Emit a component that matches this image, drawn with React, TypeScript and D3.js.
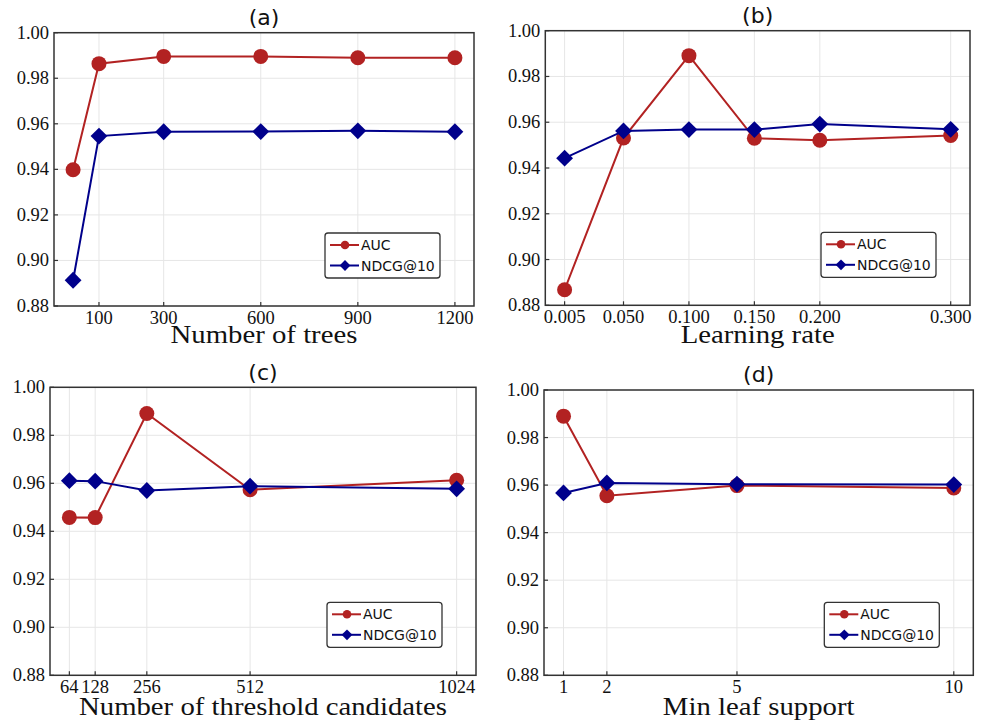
import React from "react";
import * as d3 from "d3";

// ---------- data ----------
const yTicks = [0.88, 0.9, 0.92, 0.94, 0.96, 0.98, 1.0];

const treesX = [20, 100, 300, 600, 900, 1200];
const treesTicks = [100, 300, 600, 900, 1200];
const treesTickLabels = ["100", "300", "600", "900", "1200"];
const treesAUC = [0.9398, 0.9864, 0.9896, 0.9896, 0.989, 0.989];
const treesNDCG = [0.8913, 0.9546, 0.9565, 0.9566, 0.9569, 0.9565];

const lrX = [0.005, 0.05, 0.1, 0.15, 0.2, 0.3];
const lrTicks = [0.005, 0.05, 0.1, 0.15, 0.2, 0.3];
const lrTickLabels = ["0.005", "0.050", "0.100", "0.150", "0.200", "0.300"];
const lrAUC = [0.8868, 0.9531, 0.9891, 0.953, 0.9521, 0.9542];
const lrNDCG = [0.9443, 0.9562, 0.9568, 0.9568, 0.9592, 0.9569];

const thrX = [64, 128, 256, 512, 1024];
const thrTicks = [64, 128, 256, 512, 1024];
const thrTickLabels = ["64", "128", "256", "512", "1024"];
const thrAUC = [0.9458, 0.9457, 0.9891, 0.9573, 0.9613];
const thrNDCG = [0.9611, 0.9609, 0.957, 0.9588, 0.9577];

const leafX = [1, 2, 5, 10];
const leafTicks = [1, 2, 5, 10];
const leafTickLabels = ["1", "2", "5", "10"];
const leafAUC = [0.989, 0.9555, 0.9598, 0.9588];
const leafNDCG = [0.9567, 0.9609, 0.9604, 0.9602];

const seriesNames = ["AUC", "NDCG@10"];
const seriesColors = ["#b22222", "#00008b"];

// ---------- drawing ----------
type PanelProps = {
  title: string;
  xlabel: string;
  x: number[];
  auc: number[];
  ndcg: number[];
  ticks: number[];
  tickLabels: string[];
  L: number;
  R: number;
  T: number;
  B: number;
  titleY: number;
  xlabelY: number;
};

const SERIF = "'Liberation Serif', 'Times New Roman', serif";
const SANS = "'DejaVu Sans', sans-serif";

function diamondPath(cx: number, cy: number, r: number) {
  return `M${cx},${cy - r}L${cx + r},${cy}L${cx},${cy + r}L${cx - r},${cy}Z`;
}

function Marker({ kind, cx, cy, color, r }: { kind: number; cx: number; cy: number; color: string; r: number }) {
  if (kind === 0) return <circle cx={cx} cy={cy} r={r} fill={color} />;
  return <path d={diamondPath(cx, cy, r * 1.12)} fill={color} />;
}

function Panel(p: PanelProps) {
  const ext = d3.extent(p.x) as [number, number];
  const pad = (ext[1] - ext[0]) * 0.05;
  const xs = d3.scaleLinear().domain([ext[0] - pad, ext[1] + pad]).range([p.L, p.R]);
  const ys = d3.scaleLinear().domain([0.88, 1.0]).range([p.B, p.T]);
  const line = d3
    .line<number>()
    .x((_, i) => xs(p.x[i]))
    .y((d) => ys(d));
  const cx = (p.L + p.R) / 2;
  const series = [p.auc, p.ndcg];
  const lgW = 115;
  const lgH = 45;
  const lgX = p.R - 34 - lgW;
  const lgY = p.B - 28 - lgH;
  return (
    <g>
      {/* grid */}
      {yTicks.map((t) => (
        <line key={"gy" + t} x1={p.L} x2={p.R} y1={ys(t)} y2={ys(t)} stroke="#e6e6e6" strokeWidth={1} />
      ))}
      {p.ticks.map((t) => (
        <line key={"gx" + t} x1={xs(t)} x2={xs(t)} y1={p.T} y2={p.B} stroke="#e6e6e6" strokeWidth={1} />
      ))}
      {/* series */}
      {series.map((s, si) => (
        <g key={"s" + si}>
          <path d={line(s) || ""} fill="none" stroke={seriesColors[si]} strokeWidth={2} />
          {s.map((v, i) => (
            <Marker key={i} kind={si} cx={xs(p.x[i])} cy={ys(v)} color={seriesColors[si]} r={7.5} />
          ))}
        </g>
      ))}
      {/* frame */}
      <rect x={p.L} y={p.T} width={p.R - p.L} height={p.B - p.T} fill="none" stroke="#333" strokeWidth={1.5} />
      {/* y ticks */}
      {yTicks.map((t) => (
        <g key={"yt" + t}>
          <line x1={p.L} x2={p.L + 4} y1={ys(t)} y2={ys(t)} stroke="#333" strokeWidth={1.2} />
          <text
            x={p.L - 5}
            y={ys(t)}
            textAnchor="end"
            dominantBaseline="central"
            fontFamily={SERIF}
            fontSize={18.5}
            fill="#111"
          >
            {t.toFixed(2)}
          </text>
        </g>
      ))}
      {/* x ticks */}
      {p.ticks.map((t, i) => (
        <g key={"xt" + t}>
          <line x1={xs(t)} x2={xs(t)} y1={p.B} y2={p.B - 4} stroke="#333" strokeWidth={1.2} />
          <text x={xs(t)} y={p.B + 17.5} textAnchor="middle" fontFamily={SERIF} fontSize={18.5} fill="#111">
            {p.tickLabels[i]}
          </text>
        </g>
      ))}
      {/* title */}
      <text x={cx} y={p.titleY} textAnchor="middle" fontFamily={SANS} fontSize={22} fill="#111">
        {p.title}
      </text>
      {/* xlabel */}
      <text
        transform={`translate(${cx},${p.xlabelY}) scale(1.15,1)`}
        textAnchor="middle"
        fontFamily={SERIF}
        fontSize={25}
        fill="#111"
      >
        {p.xlabel}
      </text>
      {/* legend */}
      <rect x={lgX} y={lgY} width={lgW} height={lgH} rx={3} fill="#fff" stroke="#333" strokeWidth={1.3} />
      {seriesNames.map((n, si) => {
        const ry = lgY + 12 + si * 20.5;
        return (
          <g key={"lg" + si}>
            <line x1={lgX + 5} x2={lgX + 34} y1={ry} y2={ry} stroke={seriesColors[si]} strokeWidth={2} />
            <Marker kind={si} cx={lgX + 20} cy={ry} color={seriesColors[si]} r={si === 0 ? 4.3 : 4.8} />
            <text x={lgX + 36} y={ry} dominantBaseline="central" fontFamily={SANS} fontSize={14} fill="#111">
              {n}
            </text>
          </g>
        );
      })}
    </g>
  );
}

export default function App() {
  return (
    <svg
      width={986}
      height={723}
      style={{ position: "absolute", left: 0, top: 0, background: "#fff" }}
    >
      <rect width={986} height={723} fill="#fff" />
      <Panel
        title="(a)"
        xlabel="Number of trees"
        x={treesX}
        auc={treesAUC}
        ndcg={treesNDCG}
        ticks={treesTicks}
        tickLabels={treesTickLabels}
        L={54}
        R={474}
        T={32.7}
        B={306}
        titleY={25}
        xlabelY={343}
      />
      <Panel
        title="(b)"
        xlabel="Learning rate"
        x={lrX}
        auc={lrAUC}
        ndcg={lrNDCG}
        ticks={lrTicks}
        tickLabels={lrTickLabels}
        L={545.3}
        R={970}
        T={30.7}
        B={305.3}
        titleY={23}
        xlabelY={343}
      />
      <Panel
        title="(c)"
        xlabel="Number of threshold candidates"
        x={thrX}
        auc={thrAUC}
        ndcg={thrNDCG}
        ticks={thrTicks}
        tickLabels={thrTickLabels}
        L={50}
        R={476}
        T={387.3}
        B={675.3}
        titleY={380}
        xlabelY={715}
      />
      <Panel
        title="(d)"
        xlabel="Min leaf support"
        x={leafX}
        auc={leafAUC}
        ndcg={leafNDCG}
        ticks={leafTicks}
        tickLabels={leafTickLabels}
        L={544}
        R={973.3}
        T={390}
        B={675.3}
        titleY={382}
        xlabelY={715}
      />
    </svg>
  );
}
